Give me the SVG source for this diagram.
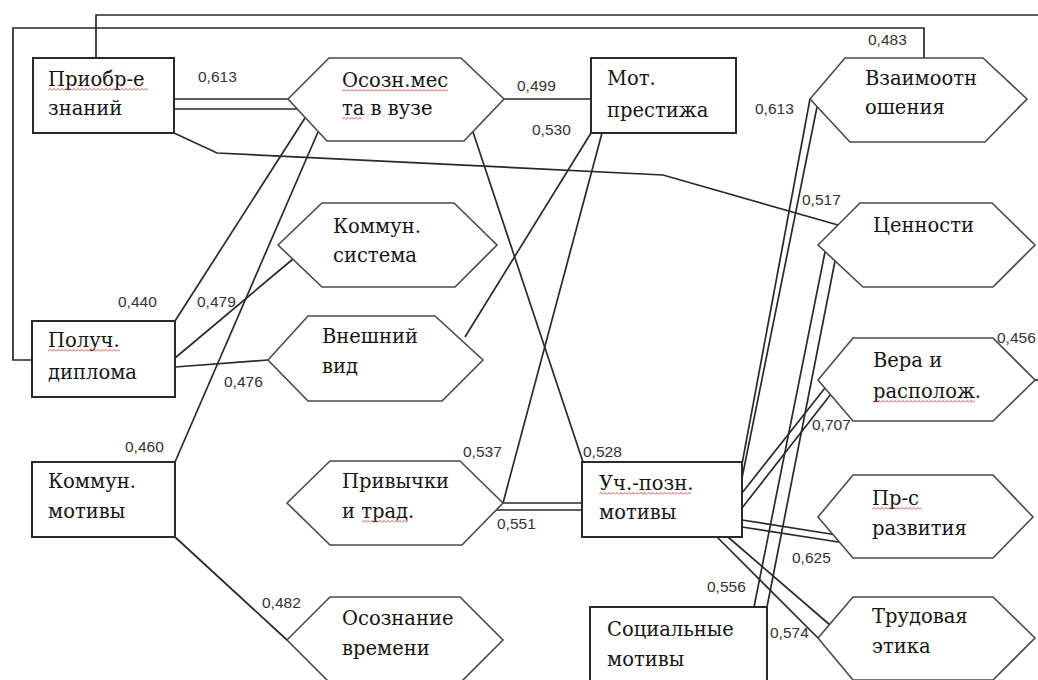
<svg xmlns="http://www.w3.org/2000/svg" width="1038" height="680" viewBox="0 0 1038 680">
<defs>
<style>
.bg{fill:#ffffff}
.rect{fill:#ffffff;stroke:#2a2a2a;stroke-width:2}
.hex{fill:#ffffff;stroke:#4a4a4a;stroke-width:1.6}
.ln{fill:none;stroke:#2a2a2a;stroke-width:1.7}
.t{font-family:"DejaVu Serif","Liberation Serif",serif;font-size:19.5px;fill:#151515}
.n{font-family:"Liberation Sans",Arial,sans-serif;font-size:15.5px;fill:#333333}
</style>
<pattern id="sq" width="4" height="3" patternUnits="userSpaceOnUse"><path d="M0 2.5 L2 0.5 L4 2.5" fill="none" stroke="#d23b3b" stroke-width="0.9"/></pattern>
</defs>
<rect class="bg" x="0" y="0" width="1038" height="680"/>
<g id="connectors">
<polyline class="ln" points="96,58 96,15 1038,15"/>
<polyline class="ln" points="32,360 13,360 13,28 924,28 924,58"/>
<line class="ln" x1="174" y1="99" x2="288" y2="99"/>
<line class="ln" x1="172" y1="109" x2="297" y2="109"/>
<polyline class="ln" points="174,133 217,153 663,175 838,225"/>
<line class="ln" x1="504" y1="99" x2="591" y2="99"/>
<line class="ln" x1="175" y1="321" x2="305" y2="118"/>
<line class="ln" x1="175" y1="462" x2="318" y2="132"/>
<line class="ln" x1="175" y1="358" x2="293" y2="259"/>
<line class="ln" x1="175" y1="367" x2="268" y2="360"/>
<line class="ln" x1="465" y1="337" x2="591" y2="133"/>
<line class="ln" x1="503" y1="503" x2="602" y2="133"/>
<line class="ln" x1="473" y1="132" x2="583" y2="462"/>
<line class="ln" x1="503" y1="503" x2="582" y2="503"/>
<line class="ln" x1="496" y1="510" x2="582" y2="510"/>
<line class="ln" x1="175" y1="537" x2="287" y2="640"/>
<line class="ln" x1="810" y1="99" x2="742" y2="464"/>
<line class="ln" x1="817" y1="107" x2="742" y2="478"/>
<line class="ln" x1="825" y1="388" x2="742" y2="493"/>
<line class="ln" x1="831" y1="394" x2="742" y2="508"/>
<line class="ln" x1="742" y1="520" x2="837" y2="535"/>
<line class="ln" x1="742" y1="527" x2="845" y2="543"/>
<line class="ln" x1="717" y1="537" x2="818" y2="638"/>
<line class="ln" x1="728" y1="537" x2="830" y2="625"/>
<line class="ln" x1="825" y1="252" x2="754" y2="607"/>
<line class="ln" x1="835" y1="261" x2="767" y2="607"/>
<line class="ln" x1="1035" y1="380" x2="1038" y2="380"/>
</g>
<g id="n-priobr"><rect class="rect" x="33" y="58" width="141" height="75"/><text class="t" x="48" y="86">Приобр-е</text><text class="t" x="48" y="115">знаний</text><g transform="translate(48,88)"><rect width="100" height="3" fill="url(#sq)"/></g></g>
<g id="n-osozn"><polygon class="hex" points="288,99 329,58 461,58 504,99 464,141 327,141"/><text class="t" x="342" y="87">Осозн.мес</text><text class="t" x="342" y="115">та в вузе</text><g transform="translate(342,89)"><rect width="106" height="3" fill="url(#sq)"/></g><g transform="translate(342,117)"><rect width="20" height="3" fill="url(#sq)"/></g></g>
<g id="n-motpr"><rect class="rect" x="591" y="58" width="145" height="75"/><text class="t" x="607" y="85">Мот.</text><text class="t" x="607" y="117">престижа</text></g>
<g id="n-vzaim"><polygon class="hex" points="810,99 845,58 983,58 1027,99 985,142 850,142"/><text class="t" x="865" y="85">Взаимоотн</text><text class="t" x="865" y="114">ошения</text></g>
<g id="n-kommsys"><polygon class="hex" points="278,245 322,203 454,203 497,245 455,287 322,287"/><text class="t" x="333" y="233">Коммун.</text><text class="t" x="333" y="262">система</text></g>
<g id="n-cenn"><polygon class="hex" points="818,245 860,203 992,203 1035,245 993,287 863,287"/><text class="t" x="873" y="232">Ценности</text></g>
<g id="n-poluch"><rect class="rect" x="32" y="321" width="143" height="76"/><text class="t" x="48" y="347">Получ.</text><text class="t" x="48" y="379">диплома</text><g transform="translate(48,349)"><rect width="72" height="3" fill="url(#sq)"/></g></g>
<g id="n-vneshn"><polygon class="hex" points="268,360 308,316 435,316 483,360 442,401 308,401"/><text class="t" x="322" y="343">Внешний</text><text class="t" x="322" y="373">вид</text></g>
<g id="n-vera"><polygon class="hex" points="818,380 853,338 993,338 1035,380 993,421 853,421"/><text class="t" x="873" y="367">Вера и</text><text class="t" x="873" y="398">располож.</text><g transform="translate(873,400)"><rect width="102" height="3" fill="url(#sq)"/></g></g>
<g id="n-kommot"><rect class="rect" x="32" y="462" width="143" height="75"/><text class="t" x="48" y="488">Коммун.</text><text class="t" x="48" y="518">мотивы</text></g>
<g id="n-privych"><polygon class="hex" points="287,503 330,461 460,461 503,503 462,545 330,545"/><text class="t" x="342" y="488">Привычки</text><text class="t" x="342" y="518">и трад.</text><g transform="translate(362,520)"><rect width="46" height="3" fill="url(#sq)"/></g></g>
<g id="n-uch"><rect class="rect" x="582" y="462" width="160" height="75"/><text class="t" x="599" y="490">Уч.-позн.</text><text class="t" x="599" y="519">мотивы</text><g transform="translate(599,492)"><rect width="92" height="3" fill="url(#sq)"/></g></g>
<g id="n-prs"><polygon class="hex" points="818,517 853,475 993,475 1033,517 993,558 853,558"/><text class="t" x="872" y="505">Пр-с</text><text class="t" x="872" y="535">развития</text><g transform="translate(872,507)"><rect width="50" height="3" fill="url(#sq)"/></g></g>
<g id="n-osoznvr"><polygon class="hex" points="287,640 330,597 460,597 503,640 460,683 330,683"/><text class="t" x="342" y="625">Осознание</text><text class="t" x="342" y="655">времени</text></g>
<g id="n-soc"><rect class="rect" x="590" y="607" width="177" height="80"/><text class="t" x="607" y="636">Социальные</text><text class="t" x="607" y="666">мотивы</text></g>
<g id="n-trud"><polygon class="hex" points="818,638 853,597 993,597 1035,638 993,680 853,680"/><text class="t" x="872" y="623">Трудовая</text><text class="t" x="872" y="653">этика</text></g>
<g id="labels">
<text class="n" x="198" y="82">0,613</text>
<text class="n" x="517" y="91">0,499</text>
<text class="n" x="532" y="135">0,530</text>
<text class="n" x="868" y="45">0,483</text>
<text class="n" x="755" y="114">0,613</text>
<text class="n" x="802" y="205">0,517</text>
<text class="n" x="997" y="343">0,456</text>
<text class="n" x="812" y="430">0,707</text>
<text class="n" x="118" y="307">0,440</text>
<text class="n" x="197" y="307">0,479</text>
<text class="n" x="224" y="387">0,476</text>
<text class="n" x="125" y="452">0,460</text>
<text class="n" x="463" y="457">0,537</text>
<text class="n" x="497" y="529">0,551</text>
<text class="n" x="583" y="457">0,528</text>
<text class="n" x="792" y="563">0,625</text>
<text class="n" x="707" y="592">0,556</text>
<text class="n" x="770" y="638">0,574</text>
<text class="n" x="262" y="608">0,482</text>
</g>
</svg>
